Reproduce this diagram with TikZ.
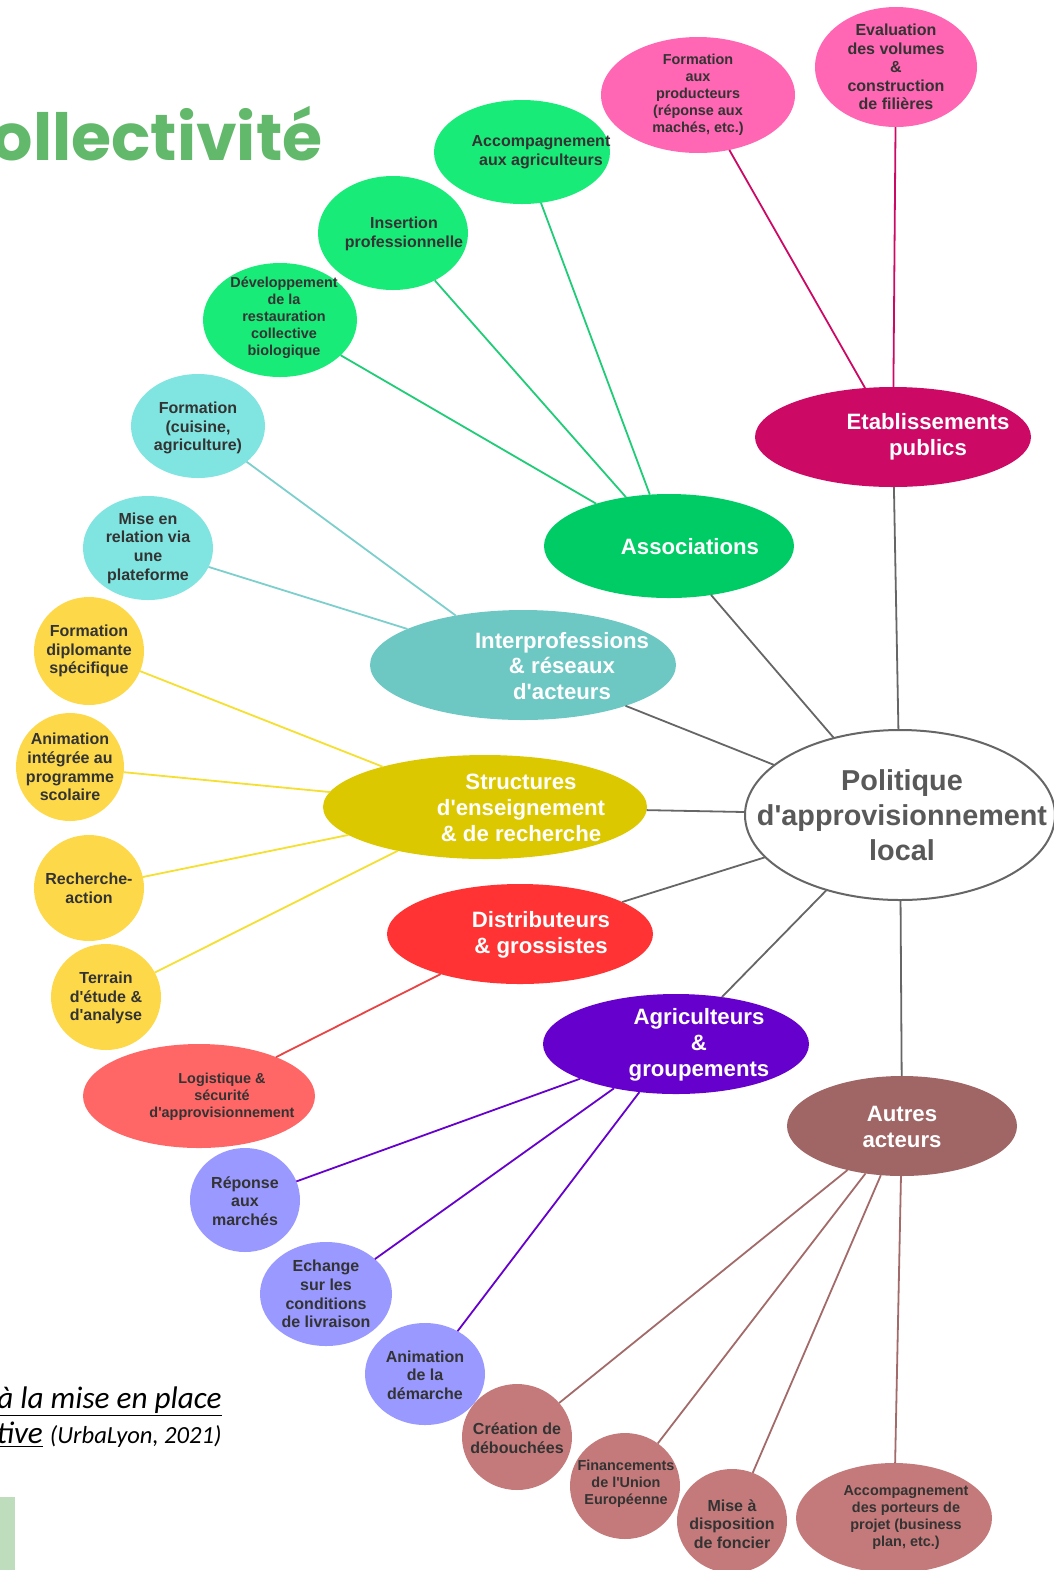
\documentclass[tikz,border=0pt]{standalone}
\usepackage{fontspec}
\setmainfont{Liberation Sans}[Ligatures=TeXOff]
\newfontfamily\titlefont{Poppins}
\newfontfamily\capfont{Carlito}
\usetikzlibrary{shapes.geometric}

\definecolor{hubline}{HTML}{666666}
\definecolor{hubtext}{HTML}{595959}
\definecolor{txtdark}{HTML}{333333}
\definecolor{titlegreen}{HTML}{63B96B}
\definecolor{tabgreen}{HTML}{BDDDBD}
\definecolor{etabcol}{HTML}{CC0A66}
\definecolor{etabsub}{HTML}{FF66B3}
\definecolor{assoccol}{HTML}{00CC66}
\definecolor{assocsub}{HTML}{19EB78}
\definecolor{assocline}{HTML}{21CC78}
\definecolor{intercol}{HTML}{6DC8C4}
\definecolor{intersub}{HTML}{80E5E0}
\definecolor{interline}{HTML}{7CCFCC}
\definecolor{structcol}{HTML}{DCC800}
\definecolor{structsub}{HTML}{FDD94A}
\definecolor{structline}{HTML}{F5DF30}
\definecolor{distcol}{HTML}{FF3333}
\definecolor{distsub}{HTML}{FF6666}
\definecolor{distline}{HTML}{E84444}
\definecolor{agricol}{HTML}{6600CC}
\definecolor{agrisub}{HTML}{9999FF}
\definecolor{autrecol}{HTML}{A06565}
\definecolor{autresub}{HTML}{C47A7A}
\definecolor{autreline}{HTML}{A36A6A}

\begin{document}
\begin{tikzpicture}[x=0.5pt,y=-0.5pt,
  bub/.style={ellipse, inner sep=0pt, outer sep=0pt},
  hub/.style={bub, draw=hubline, line width=1pt, fill=white},
  ptxt/.style={align=center, text=white, font=\bfseries\fontsize{11.1}{12.9}\selectfont},
  stxt/.style={align=center, text=txtdark, font=\bfseries\fontsize{8}{9.3}\selectfont},
  smtxt/.style={align=center, text=txtdark, font=\bfseries\fontsize{7.2}{8.5}\selectfont},
  link/.style={line width=0.9pt}]
  \useasboundingbox (0,0) rectangle (1054,1570);

  % title and caption
  \node[anchor=base east, inner sep=0pt, text=titlegreen,
        font=\titlefont\bfseries\fontsize{32.5}{36}\selectfont] (title) at (323,160) {ollectivité};
  \node[anchor=base east, inner sep=0pt, font=\capfont\itshape\fontsize{15.6}{18}\selectfont]
    (cap1) at (222,1408) {\underline{à la mise en place}};
  \node[anchor=base east, inner sep=0pt, font=\capfont\itshape\fontsize{15.6}{18}\selectfont]
    (cap2) at (222,1443) {\underline{tive} {\fontsize{12.3}{15}\selectfont(UrbaLyon, 2021)}};
  \fill[tabgreen] (0,1497) rectangle (15,1570);

  % centre and main groups
  \node[hub, minimum width=155pt, minimum height=85pt] (pol) at (900,815) {};
  \node[bub, fill=etabcol, minimum width=138pt, minimum height=50pt] (etab) at (893,437) {};
  \node[bub, fill=assoccol, minimum width=125pt, minimum height=52pt] (assoc) at (669,546) {};
  \node[bub, fill=intercol, minimum width=153pt, minimum height=55pt] (inter) at (523,665) {};
  \node[bub, fill=structcol, minimum width=162pt, minimum height=52pt] (struct) at (485,807) {};
  \node[bub, fill=distcol, minimum width=133pt, minimum height=50pt] (distrib) at (520,934) {};
  \node[bub, fill=agricol, minimum width=133pt, minimum height=50pt] (agri) at (676,1044) {};
  \node[bub, fill=autrecol, minimum width=115pt, minimum height=50pt] (autres) at (902,1126) {};

  % sub-topics
  \node[bub, fill=etabsub, minimum width=97pt, minimum height=58pt] (fprod) at (698,95) {};
  \node[bub, fill=etabsub, minimum width=81pt, minimum height=60pt] (eval) at (896,67) {};
  \node[bub, fill=assocsub, minimum width=88pt, minimum height=52pt] (accomp) at (522,152) {};
  \node[bub, fill=assocsub, minimum width=75pt, minimum height=57pt] (insert) at (393,233) {};
  \node[bub, fill=assocsub, minimum width=77pt, minimum height=57pt] (dev) at (280,320) {};
  \node[bub, fill=intersub, minimum width=67pt, minimum height=52pt] (fcuis) at (198,426) {};
  \node[bub, fill=intersub, minimum width=65pt, minimum height=52pt] (mrel) at (148,548) {};
  \node[bub, fill=structsub, minimum width=55pt, minimum height=54pt] (fdipl) at (89,651) {};
  \node[bub, fill=structsub, minimum width=54pt, minimum height=54pt] (anim) at (70,767) {};
  \node[bub, fill=structsub, minimum width=55pt, minimum height=53pt] (rech) at (89,888) {};
  \node[bub, fill=structsub, minimum width=55pt, minimum height=53pt] (terr) at (106,997) {};
  \node[bub, fill=distsub, minimum width=116pt, minimum height=52pt] (logi) at (199,1096) {};
  \node[bub, fill=agrisub, minimum width=55pt, minimum height=52pt] (rep) at (245,1200) {};
  \node[bub, fill=agrisub, minimum width=66pt, minimum height=52pt] (ech) at (326,1294) {};
  \node[bub, fill=agrisub, minimum width=60pt, minimum height=51pt] (animd) at (425,1374) {};
  \node[bub, fill=autresub, minimum width=55pt, minimum height=53pt] (crea) at (517,1437) {};
  \node[bub, fill=autresub, minimum width=55pt, minimum height=53pt] (fin) at (625,1486) {};
  \node[bub, fill=autresub, minimum width=55pt, minimum height=52pt] (mise) at (732,1521) {};
  \node[bub, fill=autresub, minimum width=98pt, minimum height=55pt] (accpp) at (894,1518) {};

  % connectors
  \foreach \g in {etab,assoc,inter,struct,distrib,agri,autres}
    \draw[link, hubline] (pol) -- (\g);
  \foreach \s/\g/\c in {fprod/etab/etabcol, eval/etab/etabcol,
      accomp/assoc/assocline, insert/assoc/assocline, dev/assoc/assocline,
      fcuis/inter/interline, mrel/inter/interline,
      fdipl/struct/structline, anim/struct/structline, rech/struct/structline, terr/struct/structline,
      logi/distrib/distline,
      rep/agri/agricol, ech/agri/agricol, animd/agri/agricol,
      crea/autres/autreline, fin/autres/autreline, mise/autres/autreline, accpp/autres/autreline}
    \draw[link, draw=\c] (\s) -- (\g);

  % labels
  \node[align=center, text=hubtext, font=\bfseries\fontsize{14.4}{17.5}\selectfont]
    (pol-t) at (902,815) {Politique\\d'approvisionnement\\local};
  \node[ptxt] (etab-t) at (928,437) {Etablissements\\publics};
  \node[ptxt] (assoc-t) at (690,547) {Associations};
  \node[ptxt] (inter-t) at (562,666) {Interprofessions\\\& réseaux\\d'acteurs};
  \node[ptxt] (struct-t) at (521,808) {Structures\\d'enseignement\\\& de recherche};
  \node[ptxt] (distrib-t) at (541,935) {Distributeurs\\\& grossistes};
  \node[ptxt] (agri-t) at (699,1045) {Agriculteurs\\\&\\groupements};
  \node[ptxt] (autres-t) at (902,1127) {Autres\\acteurs};

  \node[smtxt] (fprod-t) at (698,95) {Formation\\aux\\producteurs\\(réponse aux\\machés, etc.)};
  \node[stxt] (eval-t) at (896,67) {Evaluation\\des volumes\\\&\\construction\\de filières};
  \node[stxt] (accomp-t) at (541,152) {Accompagnement\\aux agriculteurs};
  \node[stxt] (insert-t) at (404,234) {Insertion\\professionnelle};
  \node[smtxt] (dev-t) at (284,318) {Développement\\de la\\restauration\\collective\\biologique};
  \node[stxt] (fcuis-t) at (198,428) {Formation\\(cuisine,\\agriculture)};
  \node[stxt] (mrel-t) at (148,548) {Mise en\\relation via\\une\\plateforme};
  \node[stxt] (fdipl-t) at (89,651) {Formation\\diplomante\\spécifique};
  \node[stxt] (anim-t) at (70,767) {Animation\\intégrée au\\programme\\scolaire};
  \node[stxt] (rech-t) at (89,888) {Recherche-\\action};
  \node[stxt] (terr-t) at (106,998) {Terrain\\d'étude \&\\d'analyse};
  \node[smtxt] (logi-t) at (222,1097) {Logistique \&\\sécurité\\d'approvisionnement};
  \node[stxt] (rep-t) at (245,1201) {Réponse\\aux\\marchés};
  \node[stxt] (ech-t) at (326,1294) {Echange\\sur les\\conditions\\de livraison};
  \node[stxt] (animd-t) at (425,1375) {Animation\\de la\\démarche};
  \node[stxt] (crea-t) at (517,1438) {Création de\\débouchées};
  \node[smtxt] (fin-t) at (626,1484) {Financements\\de l'Union\\Européenne};
  \node[stxt] (mise-t) at (732,1524) {Mise à\\disposition\\de foncier};
  \node[smtxt] (accpp-t) at (906,1518) {Accompagnement\\des porteurs de\\projet (business\\plan, etc.)};
\end{tikzpicture}
\end{document}
